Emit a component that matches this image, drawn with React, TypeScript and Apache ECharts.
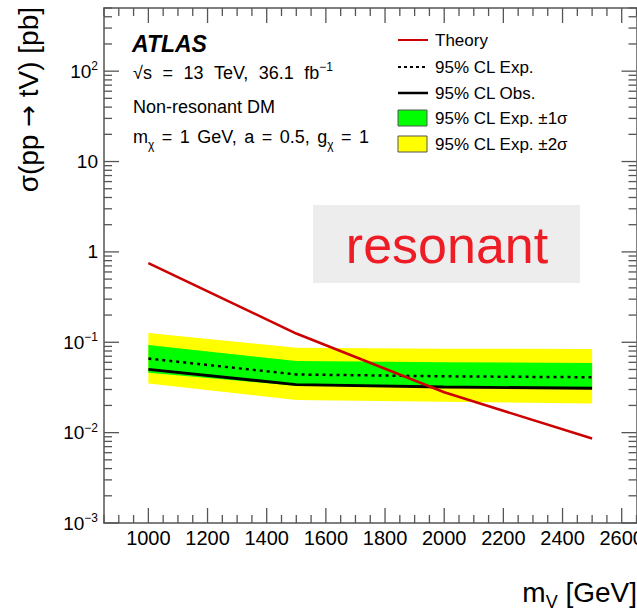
import React, { useEffect, useRef } from 'react';
import * as echarts from 'echarts';

// ---- data ----
const massPoints = [1000, 1500, 2000, 2500];
const theory = [0.75, 0.125, 0.028, 0.0086];
const expected = [0.066, 0.044, 0.042, 0.041];
const observed = [0.05, 0.034, 0.032, 0.031];
const band1Up = [0.093, 0.062, 0.06, 0.059];
const band1Down = [0.046, 0.033, 0.032, 0.032];
const band2Up = [0.127, 0.087, 0.085, 0.084];
const band2Down = [0.035, 0.023, 0.022, 0.021];

const xTickLabels = [1000, 1200, 1400, 1600, 1800, 2000, 2200, 2400, 2600];
const yDecades = [0.001, 0.01, 0.1, 1, 10, 100];

const X_MIN = 850;
const X_MAX = 2650;
const Y_MIN = 0.001;
const Y_MAX = 500;

const FONT = '"Liberation Sans", Arial, Helvetica, sans-serif';

const legendItems = ['Theory', '95% CL Exp.', '95% CL Obs.', '95% CL Exp. ±1σ', '95% CL Exp. ±2σ'];

const SP1 = '\u2002\u200A'; // wide ROOT-like space
const SP2 = '\u2004\u200A';

function yLabel(v: number): string {
  const l = Math.log10(v);
  const e = Math.round(l);
  if (Math.abs(l - e) > 1e-6) return '';
  if (e === 0) return '1';
  if (e === 1) return '10';
  return '10{sup|' + (e < 0 ? '\u2212' + -e : String(e)) + '}';
}

export default function App() {
  const ref = useRef<HTMLDivElement>(null);
  useEffect(() => {
    if (!ref.current) return;
    const chart = echarts.init(ref.current, undefined, { renderer: 'svg' });

    const bandSeries = (up: number[], down: number[], color: string) => ({
      type: 'custom',
      coordinateSystem: 'cartesian2d',
      silent: true,
      data: [[massPoints[0], up[0]]],
      renderItem: (_p: any, api: any) => {
        const pts: number[][] = [];
        massPoints.forEach((m, i) => pts.push(api.coord([m, up[i]])));
        for (let i = massPoints.length - 1; i >= 0; i--) pts.push(api.coord([massPoints[i], down[i]]));
        return { type: 'polygon', shape: { points: pts }, style: { fill: color, stroke: null } };
      },
    });

    const tickSeries = {
      type: 'custom',
      coordinateSystem: 'cartesian2d',
      silent: true,
      clip: false,
      z: 10,
      data: [[X_MIN, Y_MIN]],
      renderItem: (_p: any, api: any) => {
        const [left, bottom] = api.coord([X_MIN, Y_MIN]);
        const [right, top] = api.coord([X_MAX, Y_MAX]);
        const st = { stroke: '#555', lineWidth: 1.3 };
        const children: any[] = [];
        for (let v = X_MIN; v <= X_MAX; v += 50) {
          const px = api.coord([v, Y_MIN])[0];
          const len = xTickLabels.includes(v) ? 15 : 8;
          children.push({ type: 'line', shape: { x1: px, y1: bottom, x2: px, y2: bottom - len }, style: st });
          children.push({ type: 'line', shape: { x1: px, y1: top, x2: px, y2: top + len }, style: st });
        }
        yDecades.forEach((d) => {
          for (let k = 1; k <= 9; k++) {
            const v = d * k;
            if (v > Y_MAX) break;
            const py = api.coord([X_MIN, v])[1];
            const len = k === 1 ? 15 : 8;
            children.push({ type: 'line', shape: { x1: left, y1: py, x2: left + len, y2: py }, style: st });
            children.push({ type: 'line', shape: { x1: right, y1: py, x2: right - len, y2: py }, style: st });
          }
        });
        return { type: 'group', children };
      },
    };

    const lineSeries = (vals: number[], color: string, width: number, type: any) => ({
      type: 'line',
      data: massPoints.map((m, i) => [m, vals[i]]),
      showSymbol: false,
      symbol: 'none',
      silent: true,
      lineStyle: { color, width, type },
    });

    const legendY = [40, 67, 93, 118, 144];
    const LX0 = 398;
    const LX1 = 428;
    const graphics: any[] = [
      { type: 'rect', shape: { x: 313, y: 205, width: 267, height: 78 }, style: { fill: '#ededed' }, z: 20 },
      {
        type: 'text', x: 447, y: 245, z: 21,
        style: { text: 'resonant', fill: '#ee1c25', fontSize: 52, fontFamily: FONT, align: 'center', verticalAlign: 'middle' },
      },
      {
        type: 'text', x: 132, y: 44, z: 21,
        style: { text: 'ATLAS', fill: '#000', fontSize: 23, fontWeight: 'bold', fontStyle: 'italic', fontFamily: FONT, align: 'left', verticalAlign: 'middle' },
      },
      {
        type: 'text', x: 133, y: 73, z: 21,
        style: {
          text: '\u221As' + SP1 + '=' + SP1 + '13' + SP1 + 'TeV,' + SP1 + '36.1' + SP1 + 'fb{sup|\u22121}',
          fill: '#000', fontSize: 18, fontFamily: FONT, lineHeight: 24,
          align: 'left', verticalAlign: 'middle',
          rich: { sup: { fontSize: 12, fontFamily: FONT, verticalAlign: 'top', fill: '#000' } },
        },
      },
      {
        type: 'text', x: 133, y: 107, z: 21,
        style: { text: 'Non-resonant DM', fill: '#000', fontSize: 18, fontFamily: FONT, align: 'left', verticalAlign: 'middle' },
      },
      {
        type: 'text', x: 133, y: 137, z: 21,
        style: {
          text: 'm{sub|\u03C7}' + SP2 + '=' + SP2 + '1' + SP2 + 'GeV,' + SP2 + 'a' + SP2 + '=' + SP2 + '0.5,' + SP2 + 'g{sub|\u03C7}' + SP2 + '=' + SP2 + '1',
          fill: '#000', fontSize: 18, fontFamily: FONT, lineHeight: 28,
          align: 'left', verticalAlign: 'middle',
          rich: { sub: { fontSize: 12, fontFamily: FONT, verticalAlign: 'bottom', fill: '#000' } },
        },
      },
      { type: 'line', shape: { x1: LX0, y1: legendY[0], x2: LX1, y2: legendY[0] }, style: { stroke: '#cc0000', lineWidth: 2 }, z: 21 },
      { type: 'line', shape: { x1: LX0, y1: legendY[1], x2: LX1, y2: legendY[1] }, style: { stroke: '#000', lineWidth: 2, lineDash: [3, 3] }, z: 21 },
      { type: 'line', shape: { x1: LX0, y1: legendY[2], x2: LX1, y2: legendY[2] }, style: { stroke: '#000', lineWidth: 2.5 }, z: 21 },
      { type: 'rect', shape: { x: LX0, y: legendY[3] - 8, width: 29, height: 16 }, style: { fill: '#00ff00', stroke: '#555', lineWidth: 1 }, z: 21 },
      { type: 'rect', shape: { x: LX0, y: legendY[4] - 8, width: 29, height: 16 }, style: { fill: '#ffff00', stroke: '#555', lineWidth: 1 }, z: 21 },
      {
        type: 'text', x: 28, y: 7, rotation: Math.PI / 2, z: 21,
        style: {
          text: '\u03C3(pp {arr|\u2192} tV) [pb]', fill: '#000', fontSize: 28, fontFamily: FONT, lineHeight: 32,
          align: 'right', verticalAlign: 'middle',
          rich: { arr: { fontSize: 26, fontFamily: '"DejaVu Sans", sans-serif', fill: '#000' } },
        },
      },
      {
        type: 'text', x: 637, y: 592, z: 21,
        style: {
          text: 'm{sub|V} [GeV]', fill: '#000', fontSize: 28, fontFamily: FONT, lineHeight: 38,
          align: 'right', verticalAlign: 'middle',
          rich: { sub: { fontSize: 18, fontFamily: FONT, verticalAlign: 'bottom', fill: '#000' } },
        },
      },
    ];
    legendItems.forEach((t, i) => {
      graphics.push({
        type: 'text', x: 435, y: legendY[i], z: 21,
        style: { text: t, fill: '#000', fontSize: 17, fontFamily: FONT, align: 'left', verticalAlign: 'middle' },
      });
    });

    chart.setOption({
      animation: false,
      backgroundColor: '#ffffff',
      grid: { left: 104, top: 8, right: 0.5, bottom: 88, containLabel: false, outerBoundsMode: 'none' },
      xAxis: [
        {
          type: 'value', min: X_MIN, max: X_MAX, interval: 50,
          axisLine: { show: true, onZero: false, lineStyle: { color: '#555', width: 1.5 } },
          axisTick: { show: false },
          splitLine: { show: false },
          axisLabel: {
            interval: 0, margin: 5, color: '#000', fontSize: 20, fontFamily: FONT,
            formatter: (v: number) => (xTickLabels.includes(v) ? String(v) : ''),
          },
        },
        {
          type: 'value', min: X_MIN, max: X_MAX, position: 'top',
          axisLine: { show: true, onZero: false, lineStyle: { color: '#555', width: 1.5 } },
          axisTick: { show: false }, axisLabel: { show: false }, splitLine: { show: false },
        },
      ],
      yAxis: [
        {
          type: 'log', logBase: 10, min: Y_MIN, max: Y_MAX,
          axisLine: { show: true, onZero: false, lineStyle: { color: '#555', width: 1.5 } },
          axisTick: { show: false },
          splitLine: { show: false },
          minorTick: { show: false },
          axisLabel: {
            showMaxLabel: false, margin: 6, color: '#000', fontSize: 19, fontFamily: FONT, lineHeight: 22,
            formatter: yLabel,
            rich: { sup: { fontSize: 12, fontFamily: FONT, verticalAlign: 'top', color: '#000' } },
          },
        },
        {
          type: 'log', logBase: 10, min: Y_MIN, max: Y_MAX, position: 'right',
          axisLine: { show: true, onZero: false, lineStyle: { color: '#555', width: 1.5 } },
          axisTick: { show: false }, axisLabel: { show: false }, splitLine: { show: false },
        },
      ],
      graphic: graphics,
      series: [
        bandSeries(band2Up, band2Down, '#ffff00'),
        bandSeries(band1Up, band1Down, '#00ff00'),
        lineSeries(expected, '#000', 2.5, [3, 4]),
        lineSeries(observed, '#000', 2.8, 'solid'),
        lineSeries(theory, '#cc0000', 2.5, 'solid'),
        tickSeries,
      ],
    });
    return () => chart.dispose();
  }, []);
  return <div ref={ref} style={{ position: 'fixed', left: 0, top: 0, width: 637, height: 611 }} />;
}
